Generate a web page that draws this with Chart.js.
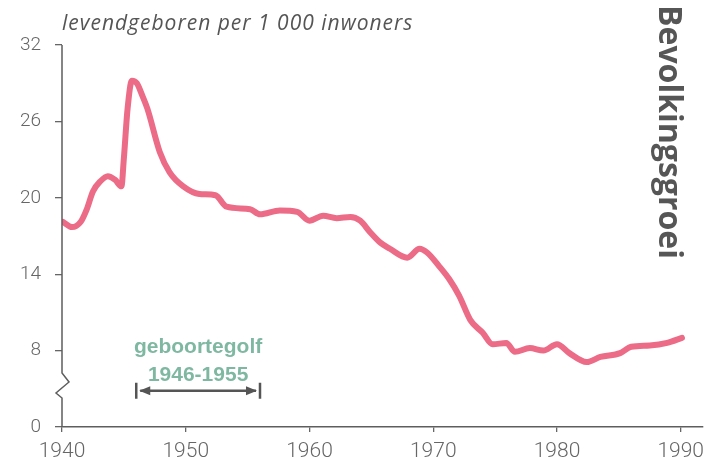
<!DOCTYPE html>
<html><head><meta charset="utf-8">
<script src="https://cdn.jsdelivr.net/npm/chart.js@4.4.0/dist/chart.umd.min.js"></script>
<style>html,body{margin:0;padding:0;background:#fff;}#wrap{width:719px;height:458px;position:relative;}</style>
</head><body><div id="wrap"><canvas id="c" width="719" height="458"></canvas></div>
<script>
// ---- data ----
const years = [1940.1, 1940.8, 1941.5, 1942.0, 1942.5, 1943.1, 1943.7, 1944.3, 1944.8, 1945.0, 1945.3, 1945.65, 1946.05, 1946.5, 1946.9,
  1947.9, 1948.7, 1949.8, 1951.1, 1952.4, 1953.3, 1955.2, 1956.0, 1957.6, 1959.0, 1960.0, 1961.1, 1962.2, 1963.3, 1964.1,
  1964.9, 1965.7, 1966.5, 1967.9, 1968.9, 1969.5, 1970.5, 1971.3, 1972.1, 1973.0, 1974.0, 1974.8, 1975.9, 1976.6, 1977.8,
  1978.9, 1980.0, 1981.0, 1982.4, 1983.5, 1985.1, 1986.0, 1987.5, 1988.9, 1990.1];
const birthRate = [18.1, 17.7, 18.1, 19.1, 20.5, 21.3, 21.7, 21.4, 20.9, 23.1, 27.0, 29.2, 29.0, 28.0, 27.0,
  23.6, 22.0, 20.9, 20.3, 20.2, 19.3, 19.1, 18.7, 19.0, 18.9, 18.2, 18.6, 18.4, 18.5, 18.2,
  17.3, 16.5, 16.0, 15.3, 16.0, 15.7, 14.6, 13.6, 12.3, 10.4, 9.4, 8.5, 8.6, 7.9, 8.2,
  8.0, 8.5, 7.8, 7.1, 7.5, 7.8, 8.3, 8.4, 8.6, 9.0];
const xTickValues = [1940, 1950, 1960, 1970, 1980, 1990];
const yTickValues = [2, 8, 14, 20, 26, 32];      // broken axis: lowest tick stands for 0
const yTickLabels = ['0', '8', '14', '20', '26', '32'];
const axisTitle = 'levendgeboren per 1 000 inwoners';
const sideTitle = 'Bevolkingsgroei';
const waveLabel = 'geboortegolf';
const waveRangeLabel = '1946-1955';
const waveYears = [1946, 1956];

const points = years.map((x, i) => ({x: x, y: birthRate[i]}));

const deco = {
  id: 'deco',
  afterDraw(chart) {
    const ctx = chart.ctx, ys = chart.scales.y, xs = chart.scales.x, a = chart.chartArea;
    const axisCol = '#5e5e5e';
    ctx.save();
    // y axis line with break symbol
    const x0 = a.left, b = a.bottom;
    ctx.strokeStyle = axisCol; ctx.lineWidth = 1.5; ctx.lineJoin = 'miter';
    ctx.beginPath();
    ctx.moveTo(x0, a.top);
    ctx.lineTo(x0, b - 54);
    ctx.lineTo(x0 + 7, b - 45);
    ctx.lineTo(x0 - 6, b - 34);
    ctx.lineTo(x0, b - 29);
    ctx.lineTo(x0, b);
    ctx.stroke();

    // top axis title
    ctx.fillStyle = '#555';
    ctx.font = 'italic 21px "Open Sans"';
    ctx.letterSpacing = '1px';
    ctx.textAlign = 'left'; ctx.textBaseline = 'alphabetic';
    ctx.fillText(axisTitle, 62, 30);
    ctx.letterSpacing = '0px';

    // side title
    ctx.save();
    ctx.translate(659, 5);
    ctx.rotate(Math.PI / 2);
    ctx.font = 'bold 32px "Open Sans"';
    ctx.fillStyle = '#565656';
    ctx.fillText(sideTitle, 0, 0);
    ctx.restore();

    // birth wave annotation
    const xl = xs.getPixelForValue(waveYears[0]);
    const xr = xs.getPixelForValue(waveYears[1]);
    const xc = (xl + xr) / 2;
    ctx.fillStyle = '#7fb8a2';
    ctx.font = 'bold 21px "Liberation Sans"';
    ctx.textAlign = 'center'; ctx.textBaseline = 'middle';
    ctx.fillText(waveLabel, xc, ys.getPixelForValue(8.24));
    ctx.fillText(waveRangeLabel, xc, ys.getPixelForValue(6.1));
    const ya = ys.getPixelForValue(4.84);
    ctx.strokeStyle = '#555'; ctx.fillStyle = '#555';
    ctx.lineWidth = 2.5;
    ctx.beginPath();
    ctx.moveTo(xl, ya - 8); ctx.lineTo(xl, ya + 8);
    ctx.moveTo(xr, ya - 8); ctx.lineTo(xr, ya + 8);
    ctx.moveTo(xl + 4, ya); ctx.lineTo(xr - 4, ya);
    ctx.stroke();
    ctx.beginPath();
    ctx.moveTo(xl + 3, ya); ctx.lineTo(xl + 14, ya - 4.5); ctx.lineTo(xl + 14, ya + 4.5); ctx.closePath();
    ctx.moveTo(xr - 3, ya); ctx.lineTo(xr - 14, ya - 4.5); ctx.lineTo(xr - 14, ya + 4.5); ctx.closePath();
    ctx.fill();
    ctx.restore();
  }
};

new Chart(document.getElementById('c'), {
  type: 'line',
  data: {
    datasets: [{
      data: points,
      borderColor: '#ec6b86',
      borderWidth: 6,
      pointRadius: 0,
      cubicInterpolationMode: 'monotone',
      borderCapStyle: 'round',
      borderJoinStyle: 'round',
      fill: false
    }]
  },
  options: {
    responsive: false,
    animation: false,
    devicePixelRatio: 1,
    layout: {padding: {top: 45, right: 16, left: 0, bottom: 0}},
    plugins: {legend: {display: false}, tooltip: {enabled: false}},
    scales: {
      x: {
        type: 'linear', min: 1940, max: 1991.8,
        afterBuildTicks: s => { s.ticks = xTickValues.map(v => ({value: v})); },
        afterFit: s => { s.height = 31; },
        grid: {display: true, drawOnChartArea: false, drawTicks: true, tickLength: 5, color: '#666', lineWidth: 1.3},
        border: {display: true, color: '#5e5e5e', width: 1.5},
        ticks: {color: '#666', padding: 7, maxRotation: 0, autoSkip: false,
          font: {family: 'Roboto', size: 21, weight: '300'},
          callback: v => String(v)}
      },
      y: {
        type: 'linear', min: 2, max: 32,
        afterBuildTicks: s => { s.ticks = yTickValues.map(v => ({value: v})); },
        afterFit: s => { s.width = 62; },
        grid: {display: true, drawOnChartArea: false, drawTicks: true, tickLength: 7, color: '#666', lineWidth: 1.3},
        border: {display: false},
        ticks: {color: '#666', padding: 14, autoSkip: false,
          font: {family: 'Roboto', size: 19, weight: '300'},
          callback: v => yTickLabels[yTickValues.indexOf(v)]}
      }
    }
  },
  plugins: [deco]
});
</script>
</body></html>
